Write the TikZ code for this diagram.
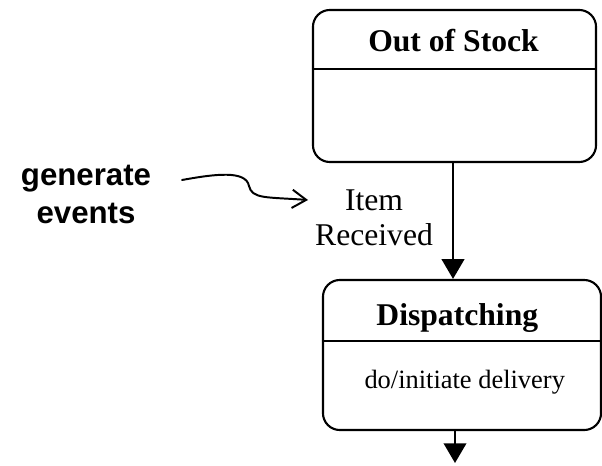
\documentclass[tikz,border=0pt]{standalone}
\usepackage{fontspec}
\setmainfont{Liberation Serif}
\newfontfamily\arialfont{Liberation Sans}
\usetikzlibrary{arrows.meta}

\begin{document}
\begin{tikzpicture}[x=0.025cm, y=-0.025cm,
  statebox/.style={draw, line width=1.5pt, rounded corners=12pt, inner sep=0pt},
  bigtext/.style={font=\fontsize{22.5}{25}\selectfont, inner sep=0pt},
  trans/.style={line width=1.5pt, -{Triangle[width=16pt,length=14pt]}}]
\useasboundingbox (0,0) rectangle (602,465);
\node[statebox, minimum width=7.075cm, minimum height=3.8cm] (stock) at (454.5,86) {};
\node[statebox, minimum width=6.95cm, minimum height=3.75cm] (dispatch) at (462,355) {};
\draw[line width=1.2pt] (stock.west |- 0,69) -- (stock.east |- 0,69);
\draw[line width=1.2pt] (dispatch.west |- 0,341) -- (dispatch.east |- 0,341);
\node[bigtext, font=\bfseries\fontsize{22.5}{25}\selectfont, anchor=base] (stocktitle) at (453.5,52) {Out of Stock};
\node[bigtext, font=\bfseries\fontsize{22.5}{25}\selectfont, anchor=base] (dispatchtitle) at (457.3,325) {Dispatching};
\node[inner sep=0pt, font=\fontsize{18.8}{22}\selectfont, anchor=base] (dispatchdo) at (464.7,388) {do/initiate delivery};
\node[bigtext, align=center] (event) at (374,217.5) {Item\\Received};
\node[inner sep=0pt, align=center, font=\arialfont\bfseries\fontsize{22.2}{27}\selectfont] (note) at (86,194) {generate\\events};
\coordinate (exit) at (455,463);
\draw[trans] (stock.south -| 453,0) -- (dispatch.north -| 453,0);
\draw[trans] (exit |- dispatch.south) -- (exit);
\coordinate (tail) at (182,180);
\coordinate (head) at (308,200);
\draw[line width=1.4pt, line cap=round, -{Straight Barb[length=10pt,width=13pt]}]
  (tail) .. controls (215,174) and (246,170) .. (249,186)
  .. controls (252,199) and (266,197) .. (head);
\end{tikzpicture}
\end{document}
